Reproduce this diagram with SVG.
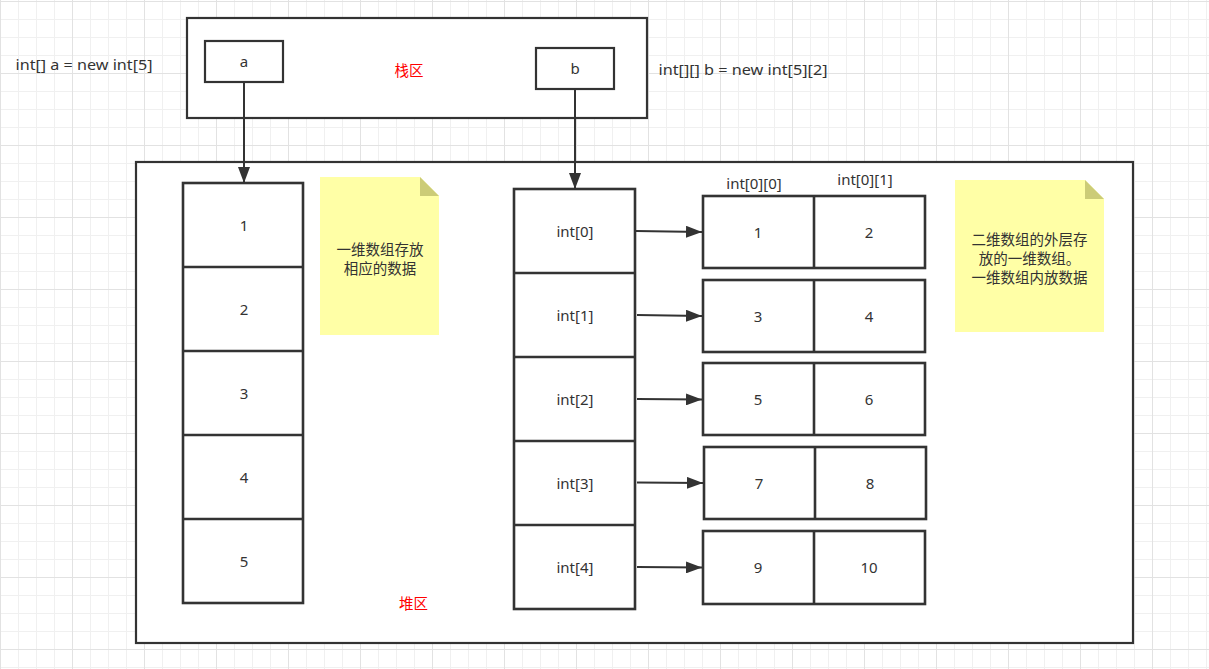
<svg xmlns="http://www.w3.org/2000/svg" width="1209" height="669" viewBox="0 0 1209 669">
<style>
.box{fill:#fff;stroke:#333;stroke-width:2.2}
.cell{fill:none;stroke:#333;stroke-width:2.6}
.t{font-family:"Noto Sans","Liberation Sans","Noto Sans CJK SC",sans-serif;font-size:15px;fill:#333;text-anchor:middle;dominant-baseline:central}
.cjk{font-family:"Noto Sans CJK SC",sans-serif;font-size:14.5px;fill:#333;text-anchor:middle;dominant-baseline:central}
.red{fill:#ff0000}
.note{fill:#ffffa6}
.fold{fill:#cccc77}
.conn{stroke:#333;stroke-width:2;fill:none}
</style>
<defs>
<pattern id="grid" x="0" y="1" width="72" height="72" patternUnits="userSpaceOnUse">
<path d="M18.5 0V72M36.5 0V72M54.5 0V72M0 18.5H72M0 36.5H72M0 54.5H72" stroke="#f0f0f0" stroke-width="1"/>
<path d="M0.5 0V72M0 0.5H72" stroke="#e2e2e2" stroke-width="1"/>
</pattern>
<marker id="arr" markerWidth="16" markerHeight="12" refX="16" refY="6" orient="auto" markerUnits="userSpaceOnUse">
<path d="M0 0L16 6L0 12Z" fill="#333"/>
</marker>
</defs>
<rect width="1209" height="669" fill="#fff"/>
<rect width="1209" height="669" fill="url(#grid)"/>

<g id="decl-a"><text class="t" x="84" y="64" textLength="137" lengthAdjust="spacingAndGlyphs">int[] a = new int[5]</text></g>
<g id="decl-b"><text class="t" x="743" y="68.5" textLength="169" lengthAdjust="spacingAndGlyphs">int[][] b = new int[5][2]</text></g>

<g id="stack">
<rect class="box" x="187" y="18" width="460" height="100"/>
<text class="cjk red" x="409" y="69">栈区</text>
</g>
<g id="var-a"><rect class="box" x="205" y="41" width="78" height="41"/><text class="t" x="244" y="60.5">a</text></g>
<g id="var-b"><rect class="box" x="536" y="48" width="78" height="41"/><text class="t" x="575" y="67.5">b</text></g>

<g id="heap">
<rect class="box" x="136" y="162" width="997" height="481"/>
<text class="cjk red" x="413.5" y="602.5">堆区</text>
</g>

<g id="array-a">
<rect class="cell" x="183" y="183" width="120" height="420"/>
<path class="cell" d="M183 267H303M183 351H303M183 435H303M183 519H303"/>
<text class="t" x="244" y="224.5">1</text>
<text class="t" x="244" y="308.5">2</text>
<text class="t" x="244" y="392.5">3</text>
<text class="t" x="244" y="476.5">4</text>
<text class="t" x="244" y="560.5">5</text>
</g>

<g id="note-a">
<path class="note" d="M320 177H420L439 196V335H320Z"/>
<path class="fold" d="M420 177L439 196H420Z"/>
<text class="cjk" x="380" y="248">一维数组存放</text>
<text class="cjk" x="380" y="267">相应的数据</text>
</g>

<g id="array-b">
<rect class="cell" x="514" y="189" width="121" height="420"/>
<path class="cell" d="M514 273H635M514 357H635M514 441H635M514 525H635"/>
<text class="t" x="575" y="230.5">int[0]</text>
<text class="t" x="575" y="314.5">int[1]</text>
<text class="t" x="575" y="398.5">int[2]</text>
<text class="t" x="575" y="482.5">int[3]</text>
<text class="t" x="575" y="566.5">int[4]</text>
</g>

<g id="col-labels">
<text class="t" x="754" y="183">int[0][0]</text>
<text class="t" x="865" y="179">int[0][1]</text>
</g>

<g id="row0"><rect class="cell" x="703" y="196" width="222" height="72"/><path class="cell" d="M814 196V268"/><text class="t" x="758" y="231.5">1</text><text class="t" x="869" y="231.5">2</text></g>
<g id="row1"><rect class="cell" x="703" y="280" width="222" height="72"/><path class="cell" d="M814 280V352"/><text class="t" x="758" y="315.5">3</text><text class="t" x="869" y="315.5">4</text></g>
<g id="row2"><rect class="cell" x="703" y="363" width="222" height="72"/><path class="cell" d="M814 363V435"/><text class="t" x="758" y="398.5">5</text><text class="t" x="869" y="398.5">6</text></g>
<g id="row3"><rect class="cell" x="704" y="447" width="222" height="72"/><path class="cell" d="M815 447V519"/><text class="t" x="759" y="482.5">7</text><text class="t" x="870" y="482.5">8</text></g>
<g id="row4"><rect class="cell" x="703" y="531" width="222" height="73"/><path class="cell" d="M814 531V604"/><text class="t" x="758" y="566.5">9</text><text class="t" x="869" y="566.5">10</text></g>

<g id="note-b">
<path class="note" d="M955 180H1085L1104 199V332H955Z"/>
<path class="fold" d="M1085 180L1104 199H1085Z"/>
<text class="cjk" x="1029.5" y="238.5">二维数组的外层存</text>
<text class="cjk" x="1029.5" y="257.5">放的一维数组。</text>
<text class="cjk" x="1029.5" y="276.5">一维数组内放数据</text>
</g>

<g id="connectors">
<path class="conn" d="M244 82V183" marker-end="url(#arr)"/>
<path class="conn" d="M575 89V189" marker-end="url(#arr)"/>
<path class="conn" d="M636 231L702 232" marker-end="url(#arr)"/>
<path class="conn" d="M637 315L702 316" marker-end="url(#arr)"/>
<path class="conn" d="M637 399L702 399.5" marker-end="url(#arr)"/>
<path class="conn" d="M637 482.5L703 483" marker-end="url(#arr)"/>
<path class="conn" d="M637 567L702 567.5" marker-end="url(#arr)"/>
</g>
</svg>
